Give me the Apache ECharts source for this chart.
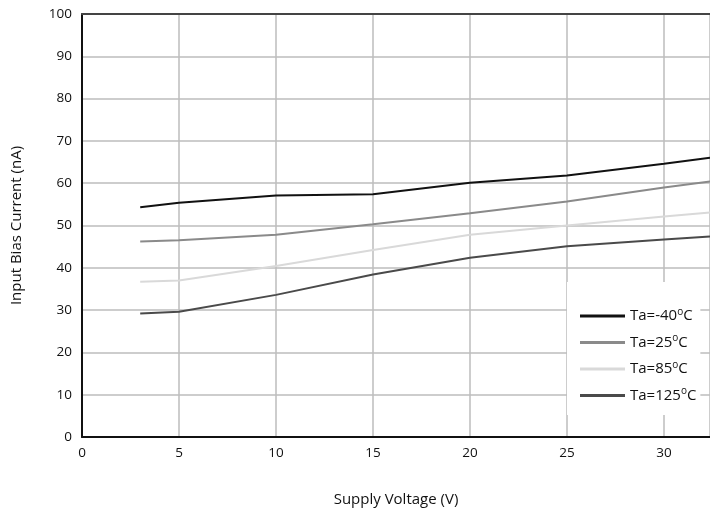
<!DOCTYPE html>
<html>
<head>
<meta charset="utf-8">
<script src="https://cdn.jsdelivr.net/npm/echarts@6/dist/echarts.min.js"></script>
<style>
  html, body { margin: 0; padding: 0; background: #fff; }
  #chart { width: 710px; height: 512px; }
</style>
</head>
<body>
<div id="chart"></div>
<script>
// supply voltage points (V); last one is where the plot is cut off
const voltage = [3, 5, 10, 15, 20, 25, 30, 32.37];
const seriesNames = ['Ta=-40', 'Ta=25', 'Ta=85', 'Ta=125'];
const biasM40 = [54.3, 55.4, 57.1, 57.4, 60.1, 61.8, 64.6, 66.0];
const bias25 = [46.2, 46.5, 47.8, 50.3, 52.9, 55.7, 59.0, 60.4];
const bias85 = [36.7, 37.0, 40.4, 44.2, 47.8, 50.0, 52.1, 53.1];
const bias125 = [29.2, 29.6, 33.6, 38.4, 42.4, 45.1, 46.7, 47.4];
const lineColors = ['#111111', '#8a8a8a', '#d9d9d9', '#4a4a4a'];

const font = 'Open Sans';
const allBias = [biasM40, bias25, bias85, bias125];

const chart = echarts.init(document.getElementById('chart'));

const series = seriesNames.map((name, i) => ({
  name: name,
  type: 'line',
  data: voltage.map((v, j) => [v, allBias[i][j]]),
  symbol: 'none',
  lineStyle: { color: lineColors[i], width: 2 },
  itemStyle: { color: lineColors[i] },
  z: 3
}));

chart.setOption({
  animation: false,
  backgroundColor: '#fff',
  grid: { left: 82, top: 14, right: 0, bottom: 74 },
  xAxis: [{
    type: 'value',
    min: 0,
    max: 32.37,
    interval: 5,
    name: 'Supply Voltage (V)',
    nameLocation: 'middle',
    nameGap: 55,
    nameTextStyle: { fontFamily: font, fontSize: 15, color: '#111' },
    axisLine: { lineStyle: { color: '#111', width: 2 } },
    axisTick: { show: false },
    axisLabel: { showMaxLabel: false, fontFamily: font, fontSize: 13.5, color: '#111', margin: 9 },
    splitLine: { show: true, lineStyle: { color: '#bdbdbd', width: 1.5 } }
  }, {
    type: 'value',
    position: 'top',
    min: 0,
    max: 32.37,
    axisLine: { show: true, lineStyle: { color: '#444', width: 2 } },
    axisTick: { show: false },
    axisLabel: { show: false },
    splitLine: { show: false }
  }],
  yAxis: {
    type: 'value',
    min: 0,
    max: 100,
    interval: 10,
    name: 'Input Bias Current (nA)',
    nameLocation: 'middle',
    nameGap: 58,
    nameTextStyle: { fontFamily: font, fontSize: 15, color: '#111' },
    axisLine: { show: true, lineStyle: { color: '#111', width: 2 } },
    axisTick: { show: false },
    axisLabel: { fontFamily: font, fontSize: 13.5, color: '#111', margin: 10 },
    splitLine: { lineStyle: { color: '#bdbdbd', width: 1.5 } }
  },
  legend: {
    orient: 'vertical',
    left: 567,
    top: 282,
    width: 136,
    backgroundColor: '#fff',
    padding: [25, 4, 12, 13],
    icon: 'rect',
    itemWidth: 45,
    itemHeight: 3,
    itemGap: 10,
    data: seriesNames,
    formatter: name => '{a|' + name + '}{s|o}{a|C}',
    textStyle: {
      fontFamily: font,
      fontSize: 15,
      color: '#111',
      rich: {
        a: { fontFamily: font, fontSize: 15, color: '#111' },
        s: { fontFamily: font, fontSize: 10, color: '#111', verticalAlign: 'top', padding: [0, 0, 8, 0] }
      }
    }
  },
  series: series
});
</script>
</body>
</html>
